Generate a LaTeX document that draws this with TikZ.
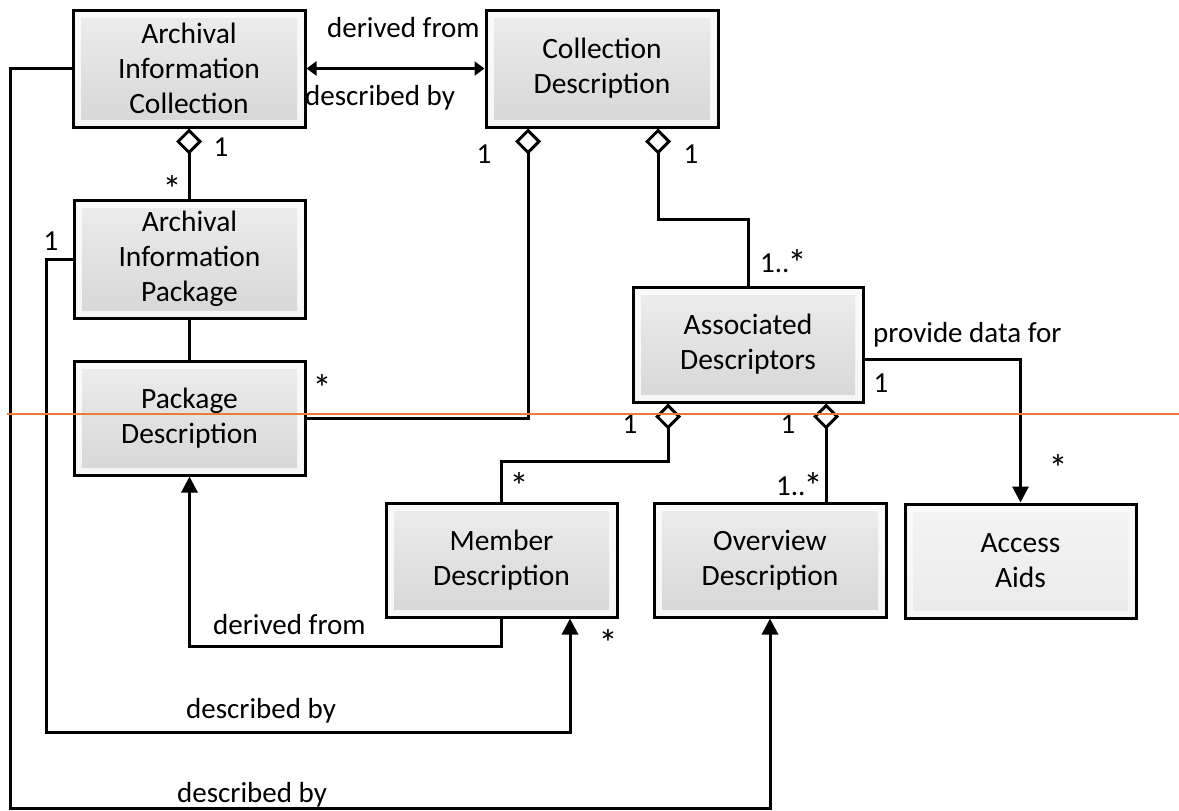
\documentclass[tikz,border=0pt]{standalone}
\usepackage{fontspec}
\setmainfont{Carlito}
\usetikzlibrary{arrows.meta,calc}
\definecolor{orangeline}{RGB}{237,125,49}
\newcommand{\diagfont}{\fontsize{29.5}{35}\selectfont}
\newcommand{\labfont}{\fontsize{29}{35}\selectfont}
\newcommand{\st}{\raisebox{-4pt}{\fontsize{38}{38}\selectfont *}}
\tikzset{
  umlbox/.style={draw=black, line width=3pt, minimum width=231pt, minimum height=116pt,
    align=center, inner sep=2pt, font=\diagfont, top color=gray!4, bottom color=gray!7,
    path picture={\shade[top color=gray!14, bottom color=gray!32]
      ([shift={(8pt,8pt)}]path picture bounding box.south west) rectangle
      ([shift={(-8pt,-8pt)}]path picture bounding box.north east);}},
  lightbox/.style={umlbox, path picture={\shade[top color=gray!9, bottom color=gray!16]
      ([shift={(8pt,8pt)}]path picture bounding box.south west) rectangle
      ([shift={(-8pt,-8pt)}]path picture bounding box.north east);}},
  conn/.style={line width=3pt},
  agg/.style={{Diamond[fill=white,width=26pt,length=26pt]}-},
  big/.style={-{Triangle[width=16pt,length=16pt]}},
  both/.style={{Triangle[width=14pt,length=10pt]}-{Triangle[width=14pt,length=10pt]}},
  lbl/.style={font=\labfont, inner sep=0pt}
}
\begin{document}
\begin{tikzpicture}[x=1pt,y=-1pt]
\path[use as bounding box] (0,0) rectangle (1179,811);

% boxes
\node[umlbox, minimum width=232pt, minimum height=117pt] (aic) at (189,68.5) {Archival\\Information\\Collection};
\node[umlbox, minimum width=232pt, minimum height=117pt] (cd) at (602,68.5) {Collection\\Description};
\node[umlbox, minimum height=118pt] (aip) at (189.5,259) {Archival\\Information\\Package};
\node[umlbox, minimum height=114pt] (pd) at (189.5,418) {Package\\Description};
\node[umlbox, minimum width=230pt, minimum height=115pt] (ad) at (748,344.5) {Associated\\Descriptors};
\node[umlbox, minimum height=114pt] (md) at (501.5,560) {Member\\Description};
\node[umlbox, minimum width=232pt, minimum height=114pt] (od) at (770,560) {Overview\\Description};
\node[lightbox, minimum height=114pt] (aa) at (1020.5,561) {Access\\Aids};

% connectors
\draw[conn,both] (aic.east) -- (cd.west);
\draw[conn,agg] (aic.south) -- (aic.south |- aip.north);
\draw[conn] (aip.south) -- (pd.north);
\draw[conn,agg] ($(cd.south)+(-74,0)$) |- (pd.east);
\draw[conn,agg] ($(cd.south)+(56,0)$) -- ++(0,91) -| (ad.north);
\draw[conn,big] ($(ad.east)+(0,14.5)$) -| (aa.north);
\draw[conn,agg] ($(ad.south)+(-80,0)$) |- ($(md.north)+(0,-40)$) -- (md.north);
\draw[conn,agg] ($(ad.south)+(78,0)$) -- ($(od.north)+(56,0)$);
\draw[conn,big] (md.south) -- ++(0,28) -| (pd.south);
\draw[conn,big] (aip.west) -| (46,732) -| ($(md.south)+(68.5,0)$);
\draw[conn,big] (aic.west) -| (10,808) -| (od.south);

% labels
\node[lbl, anchor=base west] (l1) at (327,37) {derived from};
\node[lbl, anchor=base west] (l2) at (305,105) {described by};
\node[lbl] (m1) at (221,147.5) {1};
\node[lbl] (m2) at (172,189) {\st};
\node[lbl] (m3) at (51,241) {1};
\node[lbl] (m4) at (322,388) {\st};
\node[lbl] (m5) at (484,154) {1};
\node[lbl] (m6) at (691,154) {1};
\node[lbl, anchor=base west] (m7) at (760,272) {1..\kern-2pt\st};
\node[lbl, anchor=base west] (l3) at (873,342) {provide data for};
\node[lbl] (m8) at (881,383) {1};
\node[lbl] (m9) at (1058,468) {\st};
\node[lbl] (m10) at (630,424.5) {1};
\node[lbl] (m11) at (788,424.5) {1};
\node[lbl] (m12) at (519,486) {\st};
\node[lbl, anchor=base west] (m13) at (776,495) {1..\kern-2pt\st};
\node[lbl] (m14) at (608,643) {\st};
\node[lbl, anchor=base west] (l4) at (213,634) {derived from};
\node[lbl, anchor=base west] (l5) at (186,718) {described by};
\node[lbl, anchor=base west] (l6) at (177,802) {described by};

% orange guide line
\coordinate (o1) at (7,414);
\coordinate (o2) at (1179,414);
\draw[orangeline, line width=1.5pt] (o1) -- (o2);
\end{tikzpicture}
\end{document}
